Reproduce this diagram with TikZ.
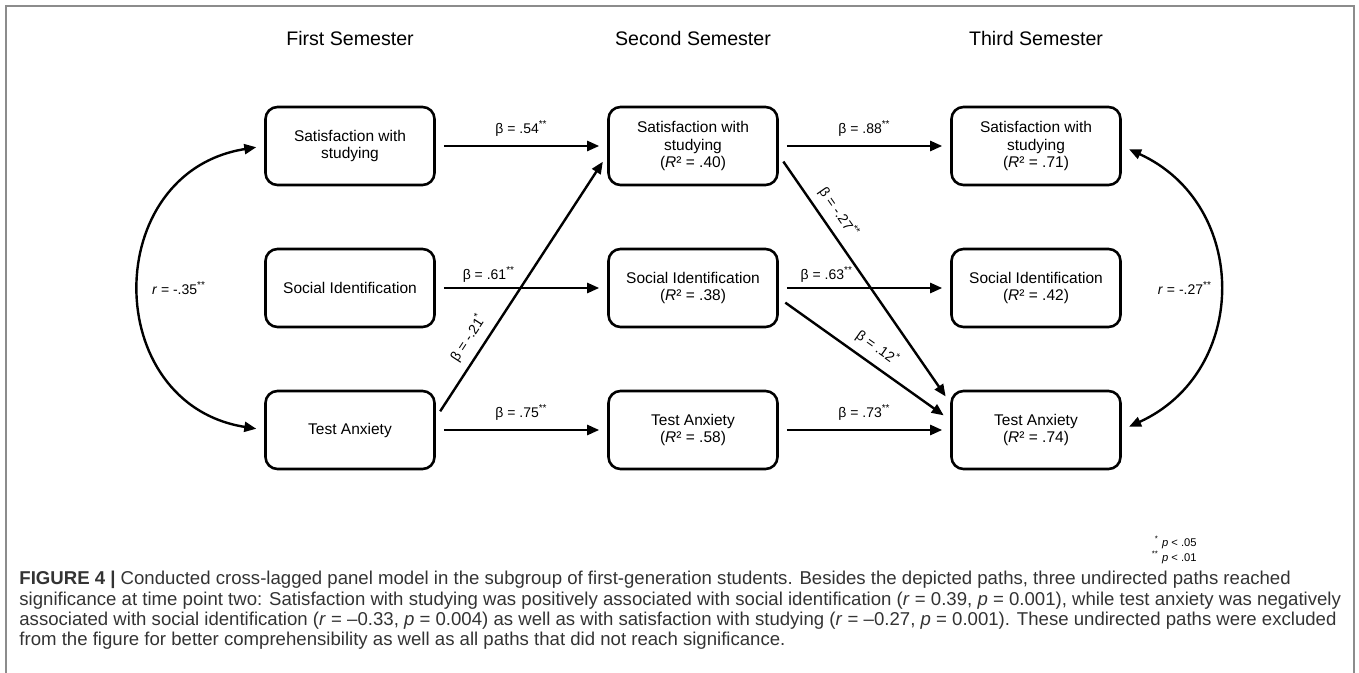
\documentclass[tikz,border=0pt]{standalone}
\usepackage{fontspec}
\setmainfont{Liberation Sans}
\usetikzlibrary{positioning, arrows.meta}
\definecolor{framegray}{HTML}{8C8C8C}
\definecolor{capgray}{HTML}{333333}
\tikzset{
>={Triangle[length=6pt, width=5pt]}, % filled arrow heads
var/.style={draw, line width=1.3pt, rounded corners=6pt, minimum width=84.5pt, minimum height=39pt, align=center, font=\fontsize{7.75pt}{8.6pt}\selectfont}, % one box per variable and semester
effect/.style={->, line width=1.2pt, shorten <=4pt, shorten >=4pt}, % directed paths
corr/.style={<->, line width=1.2pt, shorten <=4pt, shorten >=4pt}, % undirected paths
coef/.style={font=\fontsize{7pt}{8pt}\selectfont}, % coefficients on the paths
semester/.style={font=\fontsize{9.8pt}{11pt}\selectfont}, % column titles
}
\newcommand{\pstar}[1]{\textsuperscript{#1}}

\begin{document}
\begin{tikzpicture}[x=0.5pt, y=0.5pt, node distance=71pt and 171.5pt, on grid]
    \useasboundingbox (0,0) rectangle (1359,-673);
    \draw[framegray, line width=1pt] (6,-673) -- (6,-6.5) -- (1353.5,-6.5) -- (1353.5,-673);

    % first semester
    \node[var] (sat1) at (350,-146) {Satisfaction with\\studying};
    \node[var, below=of sat1] (soc1) {Social Identification};
    \node[var, below=of soc1] (anx1) {Test Anxiety};
    % second semester
    \node[var, right=of sat1] (sat2) {Satisfaction with\\studying\\(\textit{R}² = .40)};
    \node[var, below=of sat2] (soc2) {Social Identification\\(\textit{R}² = .38)};
    \node[var, below=of soc2] (anx2) {Test Anxiety\\(\textit{R}² = .58)};
    % third semester
    \node[var, right=of sat2] (sat3) {Satisfaction with\\studying\\(\textit{R}² = .71)};
    \node[var, below=of sat3] (soc3) {Social Identification\\(\textit{R}² = .42)};
    \node[var, below=of soc3] (anx3) {Test Anxiety\\(\textit{R}² = .74)};

    \node[semester, above=54pt of sat1] (sem1) {First Semester};
    \node[semester, above=54pt of sat2] (sem2) {Second Semester};
    \node[semester, above=54pt of sat3] (sem3) {Third Semester};

    \draw[effect] (sat1) -- node[coef, above=1pt] {β = .54\pstar{**}} (sat2);
    \draw[effect] (soc1) -- node[coef, above=-1pt, pos=0.31] {β = .61\pstar{**}} (soc2);
    \draw[effect] (anx1) -- node[coef, above=1pt] {β = .75\pstar{**}} (anx2);
    \draw[effect] ([yshift=6pt]anx1.east) -- node[coef, sloped, above=0.5pt, pos=0.27] {β = -.21\pstar{*}} ([yshift=-4.5pt]sat2.west);
    \draw[effect] (sat2) -- node[coef, above=1pt] {β = .88\pstar{**}} (sat3);
    \draw[effect] (soc2) -- node[coef, above=-1pt, pos=0.28] {β = .63\pstar{**}} (soc3);
    \draw[effect] (anx2) -- node[coef, above=1pt] {β = .73\pstar{**}} (anx3);
    \draw[effect] ([yshift=-4.5pt]sat2.east) -- node[coef, sloped, above=0.5pt, pos=0.27] {β = -.27\pstar{**}} ([yshift=13.5pt]anx3.west);
    \draw[effect] ([yshift=-5pt]soc2.east) -- node[coef, sloped, above=0.5pt, pos=0.52] {β = .12\pstar{*}} ([yshift=5pt]anx3.west);

    \draw[corr] (sat1.west) to[out=189, in=171, looseness=1.5] node[coef, right=1.5pt] {\textit{r} = -.35\pstar{**}} (anx1.west);
    \draw[corr] (sat3.east) to[out=-24.5, in=24.5, looseness=1.27] node[coef, left=-1pt] {\textit{r} = -.27\pstar{**}} (anx3.east);

    \node[align=right, anchor=north east, inner sep=0pt, font=\fontsize{5.6pt}{6pt}\selectfont] (note) at (1197,-536) {\pstar{*} \textit{p} < .05\\\pstar{**} \textit{p} < .01};

    \node[text=capgray, align=left, anchor=north west, inner sep=0pt, font=\fontsize{9.3pt}{10.15pt}\selectfont] (caption) at (19,-571) {\textbf{FIGURE 4 |} Conducted cross-lagged panel model in the subgroup of first-generation students. Besides the depicted paths, three undirected paths reached\\significance at time point two: Satisfaction with studying was positively associated with social identification (\textit{r} = 0.39, \textit{p} = 0.001), while test anxiety was negatively\\associated with social identification (\textit{r} = –0.33, \textit{p} = 0.004) as well as with satisfaction with studying (\textit{r} = –0.27, \textit{p} = 0.001). These undirected paths were excluded\\from the figure for better comprehensibility as well as all paths that did not reach significance.};
\end{tikzpicture}
\end{document}
